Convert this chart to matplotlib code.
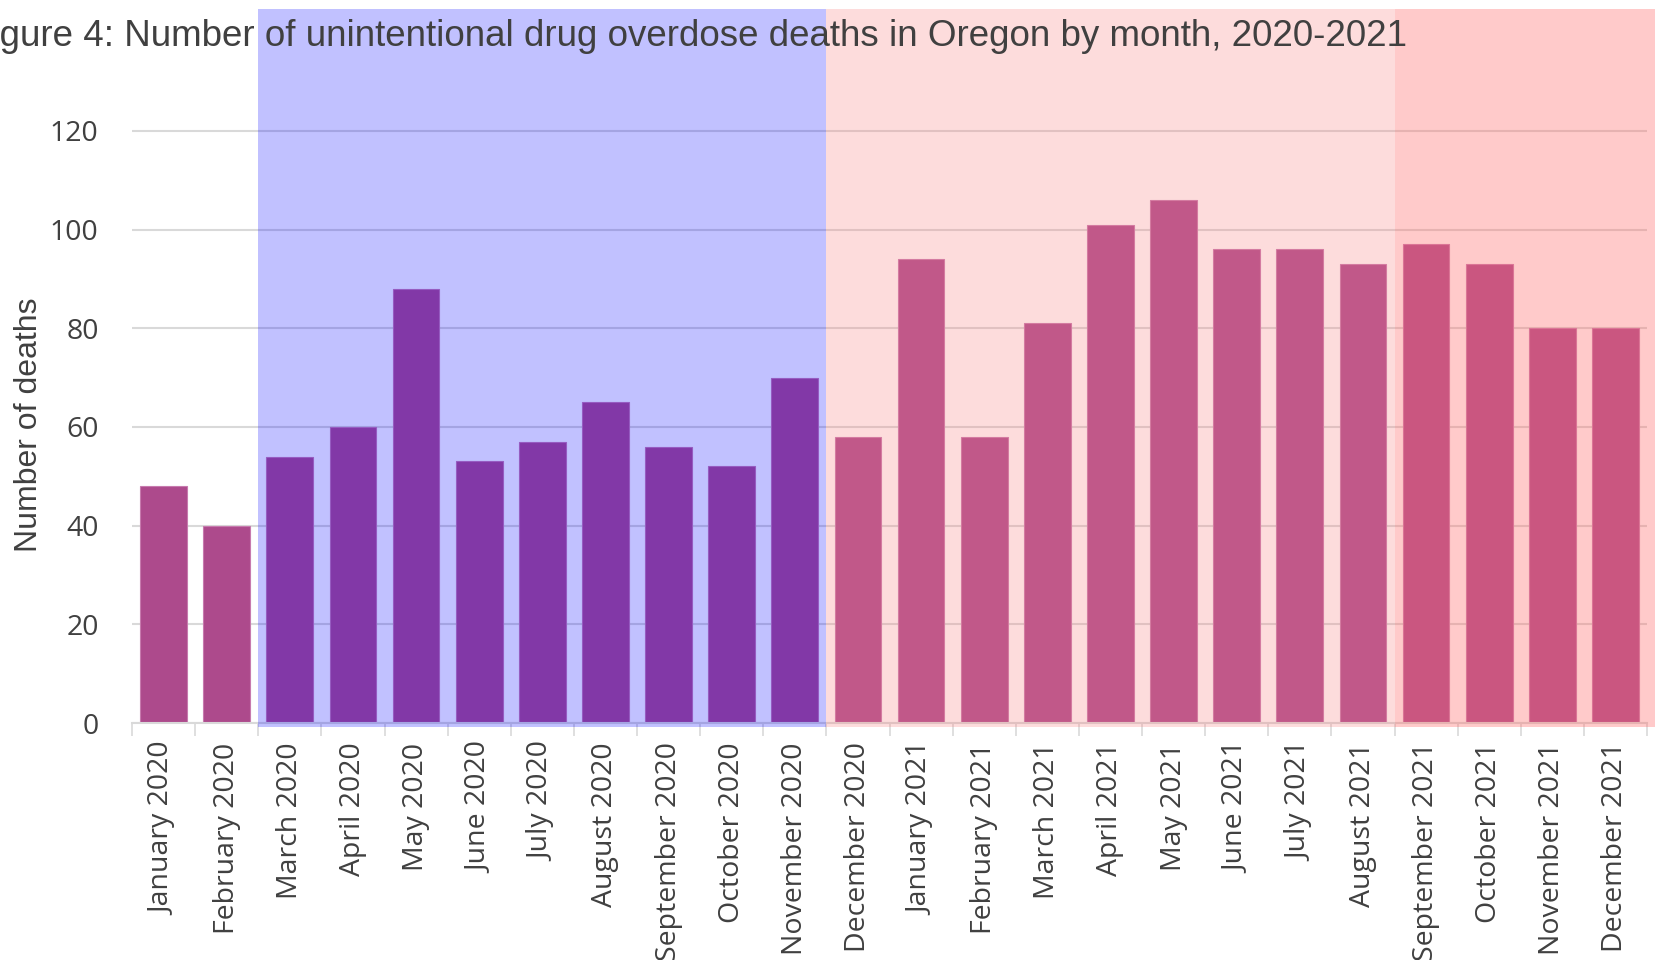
import matplotlib
matplotlib.use("Agg")
import matplotlib.pyplot as plt
from matplotlib.patches import Rectangle
import numpy as np

months = [
    "January 2020", "February 2020", "March 2020", "April 2020", "May 2020",
    "June 2020", "July 2020", "August 2020", "September 2020", "October 2020",
    "November 2020", "December 2020", "January 2021", "February 2021",
    "March 2021", "April 2021", "May 2021", "June 2021", "July 2021",
    "August 2021", "September 2021", "October 2021", "November 2021",
    "December 2021",
]
deaths = [48, 40, 54, 60, 88, 53, 57, 65, 56, 52, 70, 58,
          94, 58, 81, 101, 106, 96, 96, 93, 97, 93, 80, 80]
yticks = [0, 20, 40, 60, 80, 100, 120]

# period bands: (first month index, last month index)
band_blue = (2, 10)
band_pink = (11, 19)
band_red = (20, 23)

W, H = 1655, 960
fig = plt.figure(figsize=(W / 100, H / 100), dpi=100)
ax = fig.add_axes([132 / W, (H - 723) / H, (1647 - 132) / W, (723 - 9) / H])

x = np.arange(len(months))
ax.bar(x, deaths, width=0.74, color="#AD4A8C", edgecolor="#C77AAE",
       linewidth=0.8, zorder=2)

ax.set_xlim(-0.5, len(months) - 0.5)
ax.set_ylim(0, 144.7)
ax.set_yticks(yticks)
ax.yaxis.grid(True, color="#D9D9D9", linewidth=1.5, zorder=1)
ax.set_axisbelow(True)

for s in ["top", "right", "left"]:
    ax.spines[s].set_visible(False)
ax.spines["bottom"].set_color("#D9D9D9")
ax.spines["bottom"].set_linewidth(1.5)

ax.set_xticks(x)
ax.set_xticklabels(months, rotation=90, fontsize=20.5, family="Open Sans",
                   color="#404040")
ax.tick_params(axis="x", which="major", length=0, pad=14)
ax.set_xticks(np.arange(-0.5, len(months), 1), minor=True)
ax.tick_params(axis="x", which="minor", length=9, width=1.2, color="#D9D9D9")
ax.tick_params(axis="y", length=0, pad=24, labelsize=20.5, labelcolor="#404040")
for lab in ax.get_yticklabels():
    lab.set_family("Open Sans")

ax.set_ylabel("Number of deaths", fontsize=23, family="Liberation Sans",
              color="#404040")
ax.yaxis.set_label_coords((44 - 132) / 1515, (723 - 425) / 714)

# translucent period overlays drawn over the bars
right_extra = 8 / ((1647 - 132) / 24)
for (a, b), col, alpha in [(band_blue, "#0000FF", 0.245),
                           (band_pink, "#F88181", 0.27),
                           (band_red, "#FF6E6C", 0.36)]:
    x0 = a - 0.5
    x1 = b + 0.5 + (right_extra if b == len(months) - 1 else 0)
    ax.add_patch(Rectangle((x0, -0.8), x1 - x0, 144.7 + 0.8,
                           facecolor=col, alpha=alpha, edgecolor="none",
                           zorder=3, clip_on=False))

fig.text(1407 / W, 1 - 37 / H,
         "Figure 4: Number of unintentional drug overdose deaths in Oregon by month, 2020-2021",
         ha="right", va="center", fontsize=26.5, family="Liberation Sans",
         color="#404040", zorder=5)

fig.savefig("out.png", dpi=100)
